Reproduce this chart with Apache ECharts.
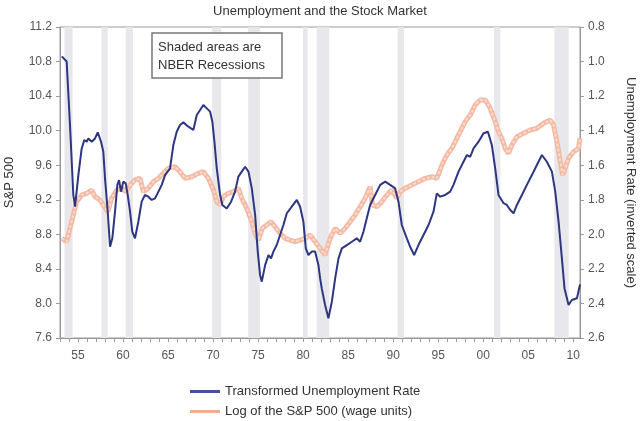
<!DOCTYPE html>
<html>
<head>
<meta charset="utf-8">
<script src="https://cdn.jsdelivr.net/npm/echarts@6/dist/echarts.min.js"></script>
<style>
  html, body { margin: 0; padding: 0; background: #fff; }
  #chart { width: 640px; height: 421px; }
</style>
</head>
<body>
<div id="chart"></div>
<script>
// transformed unemployment rate (right axis, inverted) : [year, value]
var unempData = [
  [1953.2, 0.97], [1953.74, 1.0], [1954.11, 1.367], [1954.48, 1.772], [1954.67, 1.84],
  [1955.04, 1.657], [1955.41, 1.503], [1955.7, 1.454], [1955.96, 1.464], [1956.15, 1.445],
  [1956.52, 1.464], [1956.89, 1.445], [1957.19, 1.41], [1957.56, 1.464], [1957.81, 1.522],
  [1958.0, 1.676], [1958.3, 1.869], [1958.56, 2.072], [1958.81, 2.023], [1959.11, 1.869],
  [1959.37, 1.714], [1959.56, 1.686], [1959.78, 1.753], [1960.03, 1.695], [1960.3, 1.705],
  [1960.52, 1.772], [1960.78, 1.869], [1961.03, 1.985], [1961.33, 2.023], [1961.7, 1.927],
  [1962.07, 1.811], [1962.44, 1.772], [1962.81, 1.782], [1963.19, 1.801], [1963.56, 1.792],
  [1963.93, 1.753], [1964.3, 1.714], [1964.67, 1.657], [1965.22, 1.618], [1965.59, 1.483],
  [1965.96, 1.406], [1966.33, 1.367], [1966.7, 1.352], [1967.26, 1.377], [1967.81, 1.396],
  [1968.19, 1.309], [1968.56, 1.28], [1968.92, 1.251], [1969.3, 1.271], [1969.67, 1.29],
  [1969.92, 1.348], [1970.15, 1.464], [1970.41, 1.618], [1970.78, 1.772], [1971.03, 1.83],
  [1971.52, 1.85], [1972.0, 1.811], [1972.44, 1.753], [1972.81, 1.666], [1973.19, 1.637],
  [1973.56, 1.609], [1973.93, 1.637], [1974.3, 1.734], [1974.67, 1.888], [1974.96, 2.1],
  [1975.22, 2.235], [1975.41, 2.274], [1975.78, 2.178], [1976.15, 2.12], [1976.44, 2.139],
  [1976.7, 2.1], [1977.07, 2.062], [1977.44, 2.004], [1977.81, 1.946], [1978.19, 1.878],
  [1978.74, 1.84], [1979.3, 1.801], [1979.67, 1.84], [1980.03, 1.927], [1980.3, 2.081],
  [1980.59, 2.12], [1980.96, 2.1], [1981.33, 2.1], [1981.7, 2.178], [1981.89, 2.255],
  [1982.07, 2.313], [1982.44, 2.409], [1982.81, 2.486], [1983.19, 2.39], [1983.56, 2.255],
  [1983.93, 2.139], [1984.3, 2.081], [1984.85, 2.062], [1985.41, 2.043], [1985.96, 2.023],
  [1986.33, 2.043], [1986.7, 1.985], [1987.07, 1.907], [1987.44, 1.83], [1988.0, 1.772],
  [1988.56, 1.714], [1989.11, 1.695], [1989.67, 1.714], [1990.22, 1.734], [1990.59, 1.811],
  [1990.96, 1.946], [1991.52, 2.023], [1991.89, 2.072], [1992.33, 2.12], [1992.81, 2.062],
  [1993.37, 2.004], [1993.93, 1.946], [1994.48, 1.869], [1994.85, 1.763], [1995.22, 1.782],
  [1995.78, 1.772], [1996.33, 1.753], [1996.7, 1.714], [1997.26, 1.637], [1997.81, 1.58],
  [1998.19, 1.541], [1998.56, 1.551], [1998.93, 1.502], [1999.48, 1.464], [2000.04, 1.415],
  [2000.52, 1.406], [2000.96, 1.483], [2001.33, 1.618], [2001.7, 1.772], [2002.26, 1.82],
  [2002.63, 1.83], [2003.0, 1.859], [2003.37, 1.878], [2003.74, 1.83], [2004.3, 1.772],
  [2004.85, 1.714], [2005.41, 1.657], [2005.96, 1.599], [2006.52, 1.541], [2007.07, 1.58],
  [2007.63, 1.637], [2008.0, 1.753], [2008.37, 1.927], [2008.74, 2.139], [2009.03, 2.313],
  [2009.48, 2.409], [2009.85, 2.38], [2010.41, 2.37], [2010.75, 2.29]
];

// log of the S&P 500 in wage units (left axis) : [year, value]
var spxData = [
  [1953.19, 8.754], [1953.74, 8.715], [1954.11, 8.87], [1954.48, 9.024], [1954.85, 9.178],
  [1955.41, 9.255], [1955.96, 9.275], [1956.52, 9.313], [1956.89, 9.236], [1957.44, 9.197],
  [1957.93, 9.12], [1958.3, 9.062], [1958.74, 9.217], [1959.3, 9.313], [1959.85, 9.333],
  [1960.3, 9.294], [1960.78, 9.371], [1961.33, 9.429], [1961.89, 9.448], [1962.26, 9.294],
  [1962.81, 9.333], [1963.37, 9.41], [1963.93, 9.448], [1964.48, 9.506], [1965.04, 9.564],
  [1965.78, 9.583], [1966.33, 9.525], [1966.89, 9.448], [1967.63, 9.467], [1968.37, 9.506],
  [1968.92, 9.525], [1969.48, 9.448], [1970.04, 9.313], [1970.41, 9.178], [1970.78, 9.14],
  [1971.15, 9.236], [1971.7, 9.275], [1972.26, 9.294], [1972.81, 9.333], [1973.19, 9.217],
  [1973.74, 9.101], [1974.3, 8.946], [1974.74, 8.792], [1975.04, 8.734], [1975.48, 8.87],
  [1975.96, 8.908], [1976.44, 8.946], [1976.89, 8.888], [1977.44, 8.812], [1978.0, 8.754],
  [1978.56, 8.734], [1979.11, 8.715], [1979.67, 8.734], [1980.22, 8.754], [1980.78, 8.792],
  [1981.33, 8.715], [1981.89, 8.638], [1982.44, 8.561], [1983.0, 8.754], [1983.56, 8.87],
  [1984.11, 8.812], [1984.67, 8.87], [1985.22, 8.946], [1985.78, 9.024], [1986.33, 9.12],
  [1986.89, 9.217], [1987.44, 9.352], [1987.7, 9.14], [1988.19, 9.12], [1988.74, 9.178],
  [1989.3, 9.255], [1989.85, 9.313], [1990.41, 9.217], [1990.78, 9.294], [1991.33, 9.333],
  [1992.07, 9.371], [1992.81, 9.41], [1993.56, 9.448], [1994.3, 9.467], [1994.85, 9.448],
  [1995.41, 9.602], [1995.96, 9.718], [1996.52, 9.796], [1997.26, 9.95], [1998.0, 10.104],
  [1998.56, 10.181], [1999.11, 10.297], [1999.67, 10.355], [2000.22, 10.355], [2000.78, 10.259],
  [2001.33, 10.104], [2001.7, 9.988], [2002.07, 9.912], [2002.44, 9.796], [2002.81, 9.738],
  [2003.19, 9.834], [2003.74, 9.93], [2004.48, 9.969], [2005.22, 10.008], [2005.96, 10.027],
  [2006.7, 10.085], [2007.44, 10.123], [2007.81, 10.066], [2008.19, 9.872], [2008.56, 9.641],
  [2008.81, 9.487], [2009.11, 9.564], [2009.48, 9.68], [2010.04, 9.756], [2010.59, 9.796],
  [2010.75, 9.91]
];

// NBER recessions : [start, end]
var recessions = [
  [1953.5, 1954.4], [1957.6, 1958.3], [1960.3, 1961.1], [1969.9, 1970.9],
  [1973.9, 1975.2], [1980.0, 1980.5], [1981.5, 1982.9], [1990.5, 1991.2],
  [2001.2, 2001.9], [2007.9, 2009.5]
];

var labelYears = [1955, 1960, 1965, 1970, 1975, 1980, 1985, 1990, 1995, 2000, 2005, 2010];
var tickYears = [];
for (var y = 1953; y <= 2010; y++) tickYears.push(y);

var unempName = 'Transformed Unemployment Rate';
var spxName = 'Log of the S&P 500 (wage units)';

var font = '"Liberation Sans", Arial, sans-serif';
var chart = echarts.init(document.getElementById('chart'));

function legendAt(top, name) {
  return {
    left: 185,
    top: top,
    itemWidth: 30,
    itemHeight: 3,
    icon: 'rect',
    textStyle: { fontFamily: font, fontSize: 13, color: '#333' },
    data: [name]
  };
}

chart.setOption({
  animation: false,
  backgroundColor: '#fff',
  textStyle: { fontFamily: font },
  title: {
    text: 'Unemployment and the Stock Market',
    left: 'center',
    top: 0,
    textStyle: { fontFamily: font, fontSize: 13, fontWeight: 'normal', color: '#333' }
  },
  grid: {
    left: 60, right: 60, top: 27, bottom: 83,
    outerBoundsMode: 'none',
    containLabel: false,
    show: true, borderColor: '#999', borderWidth: 1
  },
  legend: [legendAt(380, unempName), legendAt(400, spxName)],
  graphic: [{
    type: 'rect',
    shape: { x: 152, y: 33, width: 130, height: 45 },
    style: { fill: '#fff', stroke: '#777', lineWidth: 1.5 },
    z: 100
  }, {
    type: 'text',
    x: 158, y: 38,
    style: {
      text: 'Shaded areas are\nNBER Recessions',
      fontFamily: font, fontSize: 13, lineHeight: 18, fill: '#333'
    },
    z: 101
  }],
  xAxis: {
    type: 'value',
    min: 1953,
    max: 2010.75,
    axisLine: { lineStyle: { color: '#999' } },
    axisTick: { customValues: tickYears, length: 4, lineStyle: { color: '#999' } },
    axisLabel: {
      customValues: labelYears,
      formatter: function (v) { return String(v).slice(2); },
      color: '#555', fontSize: 12, margin: 12, fontFamily: font
    },
    splitLine: { show: false }
  },
  yAxis: [{
    type: 'value',
    min: 7.6, max: 11.2, interval: 0.4,
    name: 'S&P 500',
    nameLocation: 'middle',
    nameGap: 44,
    nameTextStyle: { fontFamily: font, fontSize: 13, color: '#333' },
    axisLine: { show: true, lineStyle: { color: '#999' } },
    axisTick: { show: true, length: 4, lineStyle: { color: '#999' } },
    axisLabel: {
      formatter: function (v) { return v.toFixed(1); },
      color: '#555', fontSize: 12, margin: 8, fontFamily: font
    },
    splitLine: { show: false }
  }, {
    type: 'value',
    min: 0.8, max: 2.6, interval: 0.2,
    inverse: true,
    position: 'right',
    name: 'Unemployment Rate (inverted scale)',
    nameLocation: 'middle',
    nameGap: 44,
    nameRotate: -90,
    nameTextStyle: { fontFamily: font, fontSize: 13, color: '#333' },
    axisLine: { show: true, lineStyle: { color: '#999' } },
    axisTick: { show: true, length: 4, lineStyle: { color: '#999' } },
    axisLabel: {
      formatter: function (v) { return v.toFixed(1); },
      color: '#555', fontSize: 12, margin: 8, fontFamily: font
    },
    splitLine: { show: false }
  }],
  series: [{
    name: 'recessions',
    type: 'line',
    data: [],
    silent: true,
    markArea: {
      silent: true,
      itemStyle: { color: '#e8e8ec' },
      data: recessions.map(function (r) { return [{ xAxis: r[0] }, { xAxis: r[1] }]; })
    }
  }, {
    name: spxName,
    type: 'line',
    yAxisIndex: 0,
    showSymbol: false,
    color: '#f2ad94',
    lineStyle: { width: 5, color: '#f3b9a3' },
    data: spxData
  }, {
    name: 'spx-inner',
    type: 'line',
    yAxisIndex: 0,
    showSymbol: false,
    lineStyle: { width: 2, color: '#fbdccf', type: [3, 2] },
    data: spxData
  }, {
    name: unempName,
    type: 'line',
    yAxisIndex: 1,
    showSymbol: false,
    color: '#44509e',
    lineStyle: { width: 2, color: '#2d3680' },
    data: unempData
  }]
});
</script>
</body>
</html>
